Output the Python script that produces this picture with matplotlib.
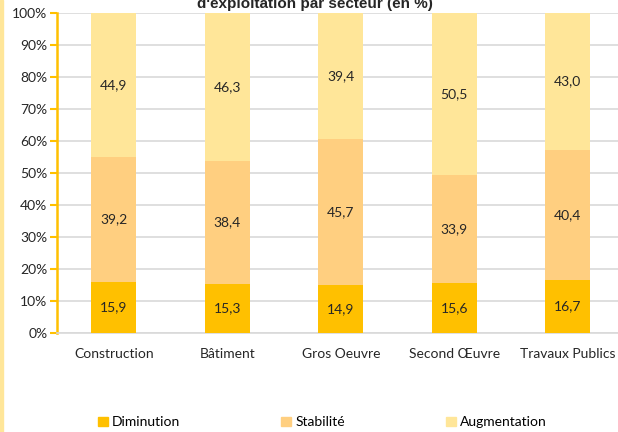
import numpy as np
import matplotlib
matplotlib.use('Agg')
from matplotlib import pyplot as plt
from matplotlib.patches import Rectangle, Patch

plt.rcParams['font.family'] = ['Lato', 'DejaVu Sans']

secteurs = ['Construction', 'Bâtiment', 'Gros Oeuvre', 'Second Œuvre', 'Travaux Publics']
diminution = [15.9, 15.3, 14.9, 15.6, 16.7]
stabilite = [39.2, 38.4, 45.7, 33.9, 40.4]
augmentation = [44.9, 46.3, 39.4, 50.5, 43.0]
yticks = [0, 10, 20, 30, 40, 50, 60, 70, 80, 90, 100]

c_dim = '#FFC000'
c_sta = '#FFCF80'
c_aug = '#FFE699'

fig = plt.figure(figsize=(6.18, 4.32), dpi=100)
# plot area runs a bit past the right edge, as in the cropped original
ax = fig.add_axes([57/618, 1-333/432, 567.5/618, 320/432])

x = np.arange(len(secteurs))
w = 0.40
d = np.array(diminution)
s = np.array(stabilite)
a = np.array(augmentation)
ax.bar(x, d, w, color=c_dim, zorder=3)
ax.bar(x, s, w, bottom=d, color=c_sta, zorder=3)
ax.bar(x, a, w, bottom=d + s, color=c_aug, zorder=3)

def fmt(v):
    return '{:.1f}'.format(v).replace('.', ',')

for i in range(len(secteurs)):
    ax.text(x[i], d[i]/2, fmt(d[i]), ha='center', va='center', fontsize=10, color='#262626', zorder=4)
    ax.text(x[i], d[i] + s[i]/2, fmt(s[i]), ha='center', va='center', fontsize=10, color='#262626', zorder=4)
    ax.text(x[i], d[i] + s[i] + a[i]/2, fmt(a[i]), ha='center', va='center', fontsize=10, color='#262626', zorder=4)

ax.set_xlim(-0.5, 4.5)
ax.set_ylim(0, 100)
ax.set_yticks(yticks)
ax.set_yticklabels(['{}%'.format(t) for t in yticks], fontsize=10, color='#262626')
ax.set_xticks(x)
ax.set_xticklabels(secteurs, fontsize=10, color='#262626')
ax.tick_params(axis='x', length=0, pad=11)
ax.tick_params(axis='y', length=5, width=1.5, color=c_dim, pad=2)
ax.grid(axis='y', color='#D9D9D9', linewidth=1.2, zorder=0)
for sp in ['top', 'right']:
    ax.spines[sp].set_visible(False)
ax.spines['left'].set_color(c_dim)
ax.spines['left'].set_linewidth(1.8)
ax.spines['bottom'].set_color('#D9D9D9')
ax.spines['bottom'].set_linewidth(1.2)

fig.text(0.51, 0.99, "d'exploitation par secteur (en %)", ha='center', va='center',
         fontsize=11, fontweight='bold', family='Liberation Sans', color='#262626')

fig.patches.append(Rectangle((0, 0), 3/618, 1, transform=fig.transFigure, color=c_aug, zorder=0))

handles = [Patch(color=c_dim), Patch(color=c_sta), Patch(color=c_aug)]
fig.legend(handles, ['Diminution', 'Stabilité', 'Augmentation'], loc='center left',
           bbox_to_anchor=(0.138, 0.022), ncol=3, frameon=False, fontsize=10,
           handlelength=0.7, handleheight=0.7, handletextpad=0.3, columnspacing=7.3)

fig.savefig('out.png', dpi=100)
